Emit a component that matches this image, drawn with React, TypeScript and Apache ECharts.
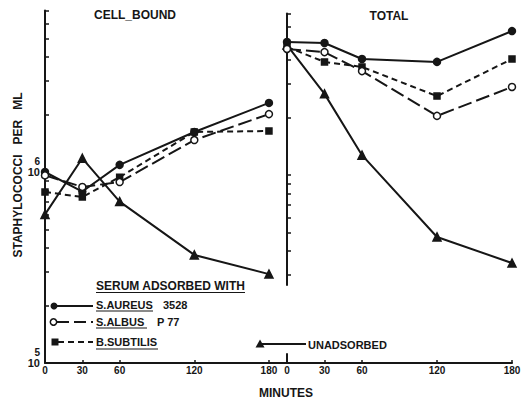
import React, { useEffect, useRef } from "react";
import * as echarts from "echarts";

// ---- data ----
const minutes = [0, 30, 60, 120, 180];
const cellAureus = [1.0e6, 0.79e6, 1.09e6, 1.62e6, 2.3e6];
const cellAlbus = [0.96e6, 0.835e6, 0.886e6, 1.47e6, 2.01e6];
const cellSubtilis = [0.786e6, 0.74e6, 0.94e6, 1.62e6, 1.64e6];
const cellUnadsorbed = [0.6e6, 1.18e6, 0.7e6, 0.368e6, 0.292e6];
const totalAureus = [4.97e6, 4.91e6, 4.05e6, 3.91e6, 5.67e6];
const totalAlbus = [4.57e6, 4.4e6, 3.5e6, 2.04e6, 2.89e6];
const totalSubtilis = [4.68e6, 3.91e6, 3.68e6, 2.59e6, 4.05e6];
const totalUnadsorbed = [4.79e6, 2.66e6, 1.27e6, 0.474e6, 0.346e6];
const xTickValues = [30, 60, 120, 180];
const xLabelValues = [0, 30, 60, 120, 180];
const yTickValues = [2e5, 3e5, 4e5, 5e5, 6e5, 7e5, 8e5, 9e5, 1e6, 2e6, 3e6, 4e6, 5e6, 6e6, 7e6];
const yRightTickValues = [3e5, 4e5, 5e5, 6e5, 7e5, 8e5, 9e5, 1e6, 2e6, 3e6, 4e6, 5e6, 6e6, 7e6];
const yLabelValues = [1e5, 1e6];
const legendNames = ["S.AUREUS", "S.ALBUS", "B.SUBTILIS", "UNADSORBED"];
const legendExtras = ["3528", "P 77"];

const INK = "#161616";
const FONT = "Liberation Sans";

const pairs = (ys: number[]) => minutes.map((m, i) => [m, ys[i]]);

type Sty = { symbol: string; size: number; dash: any; fill: string };
const STY: Record<string, Sty> = {
  aureus: { symbol: "circle", size: 7, dash: "solid", fill: INK },
  albus: { symbol: "circle", size: 7, dash: [14, 5], fill: "#fff" },
  subtilis: { symbol: "rect", size: 6, dash: [6, 4], fill: INK },
  unads: { symbol: "triangle", size: 8, dash: "solid", fill: INK },
};

const mkSeries = (name: string, key: string, ys: number[], axis: number) => ({
  name,
  type: "line",
  xAxisIndex: axis,
  yAxisIndex: axis,
  data: pairs(ys),
  symbol: STY[key].symbol,
  symbolSize: STY[key].size,
  showSymbol: true,
  lineStyle: { color: INK, width: 2, type: STY[key].dash },
  itemStyle: { color: STY[key].fill, borderColor: INK, borderWidth: 1.5 },
  emphasis: { disabled: true },
  z: key === "albus" ? 4 : 3,
});

const axisLine = { show: true, onZero: false, lineStyle: { color: INK, width: 2 } };
const xLabel = {
  customValues: xLabelValues,
  color: INK,
  fontFamily: FONT,
  fontWeight: "bold",
  fontSize: 10,
  margin: 2,
};

export default function App() {
  const ref = useRef<HTMLDivElement>(null);
  useEffect(() => {
    if (!ref.current) return;
    const chart = echarts.init(ref.current, null, { renderer: "svg" });
    const txt = (text: string, x: number, y: number, size: number, extra: any = {}) => ({
      type: "text",
      x,
      y,
      style: {
        text,
        fill: INK,
        font: `bold ${size}px "${FONT}"`,
        textAlign: "left",
        textVerticalAlign: "middle",
        ...extra,
      },
    });
    const ln = (x1: number, y1: number, x2: number, y2: number, dash?: number[], w = 1.5) => ({
      type: "line",
      shape: { x1, y1, x2, y2 },
      style: { stroke: INK, lineWidth: w, lineDash: dash },
    });
    chart.setOption({
      animation: false,
      backgroundColor: "#fff",
      grid: [
        { left: 45, width: 242, top: 10.6, height: 352.4 },
        { left: 287, width: 225, top: 13.6, height: 271.4 },
        { left: 287, width: 225, top: 354, height: 9 },
      ],
      xAxis: [
        {
          gridIndex: 0,
          type: "value",
          min: 0,
          max: 194.5,
          axisLine,
          axisTick: { inside: true, length: 3, customValues: xTickValues, lineStyle: { color: INK, width: 1.5 } },
          axisLabel: xLabel,
          splitLine: { show: false },
        },
        { gridIndex: 1, type: "value", min: 0, max: 180, show: false },
        {
          gridIndex: 2,
          type: "value",
          min: 0,
          max: 180,
          axisLine,
          axisTick: { inside: true, length: 3, customValues: xTickValues, lineStyle: { color: INK, width: 1.5 } },
          axisLabel: xLabel,
          splitLine: { show: false },
        },
      ],
      yAxis: [
        {
          gridIndex: 0,
          type: "log",
          logBase: 10,
          min: 1e5,
          max: 7e6,
          axisLine,
          axisTick: { inside: true, length: 4, customValues: yTickValues, lineStyle: { color: INK, width: 1.5 } },
          axisLabel: {
            customValues: yLabelValues,
            margin: 5,
            padding: [0, 0, 10, 0],
            formatter: (v: number) => `{e|${Math.round(Math.log10(v))}}\n{b|10}`,
            rich: {
              e: { fontSize: 10, lineHeight: 10, fontWeight: "bold", fontFamily: FONT, color: INK },
              b: { fontSize: 11, lineHeight: 11, fontWeight: "bold", fontFamily: FONT, color: INK },
            },
          },
          splitLine: { show: false },
        },
        {
          gridIndex: 1,
          type: "log",
          logBase: 10,
          min: 2.656e5,
          max: 7e6,
          axisLine,
          axisTick: { inside: true, length: 4, customValues: yRightTickValues, lineStyle: { color: INK, width: 1.5 } },
          axisLabel: { show: false },
          splitLine: { show: false },
        },
        {
          gridIndex: 2,
          type: "value",
          min: 0,
          max: 1,
          axisLine,
          axisTick: { show: false },
          axisLabel: { show: false },
          splitLine: { show: false },
        },
      ],
      series: [
        mkSeries("S.AUREUS 3528", "aureus", cellAureus, 0),
        mkSeries("S.ALBUS P 77", "albus", cellAlbus, 0),
        mkSeries("B.SUBTILIS", "subtilis", cellSubtilis, 0),
        mkSeries("UNADSORBED", "unads", cellUnadsorbed, 0),
        mkSeries("S.AUREUS 3528 total", "aureus", totalAureus, 1),
        mkSeries("S.ALBUS P 77 total", "albus", totalAlbus, 1),
        mkSeries("B.SUBTILIS total", "subtilis", totalSubtilis, 1),
        mkSeries("UNADSORBED total", "unads", totalUnadsorbed, 1),
      ],
      graphic: [
        txt("CELL_BOUND", 135, 15, 12, { textAlign: "center" }),
        txt("TOTAL", 389, 16, 12, { textAlign: "center" }),
        txt("MINUTES", 286, 393, 12, { textAlign: "center" }),
        { ...txt("STAPHYLOCOCCI   PER   ML", 18, 175, 12, { textAlign: "center" }), rotation: Math.PI / 2 },
        // legend
        txt("SERUM ADSORBED WITH", 96, 286, 12),
        ln(96, 292.5, 245, 292.5, undefined, 1.2),
        ln(54, 306, 93, 306, undefined, 2),
        { type: "circle", shape: { cx: 54, cy: 306, r: 3.5 }, style: { fill: INK } },
        txt(legendNames[0], 96, 305, 11),
        txt(legendExtras[0], 163, 305, 11),
        ln(96, 311, 153, 311, undefined, 1.2),
        ln(57, 322, 93, 322, [12, 5], 2),
        { type: "circle", shape: { cx: 53.5, cy: 322, r: 3.2 }, style: { fill: "#fff", stroke: INK, lineWidth: 1.5 } },
        txt(legendNames[1], 96, 322, 11),
        txt(legendExtras[1], 157, 322, 11),
        ln(96, 328, 147, 328, undefined, 1.2),
        ln(58, 342, 93, 342, [6, 4], 2),
        { type: "rect", shape: { x: 51.5, y: 338.5, width: 7, height: 7 }, style: { fill: INK } },
        txt(legendNames[2], 96, 342, 11),
        ln(96, 349, 158, 349, undefined, 1.2),
        ln(260, 344, 306, 344, undefined, 2),
        { type: "polygon", shape: { points: [[255.5, 347.5], [260, 339.5], [264.5, 347.5]] }, style: { fill: INK } },
        txt(legendNames[3], 308, 345, 11),
      ],
    });
    return () => chart.dispose();
  }, []);
  return (
    <div
      ref={ref}
      style={{ position: "fixed", left: 0, top: 0, width: 524, height: 400, background: "#fff" }}
    />
  );
}
